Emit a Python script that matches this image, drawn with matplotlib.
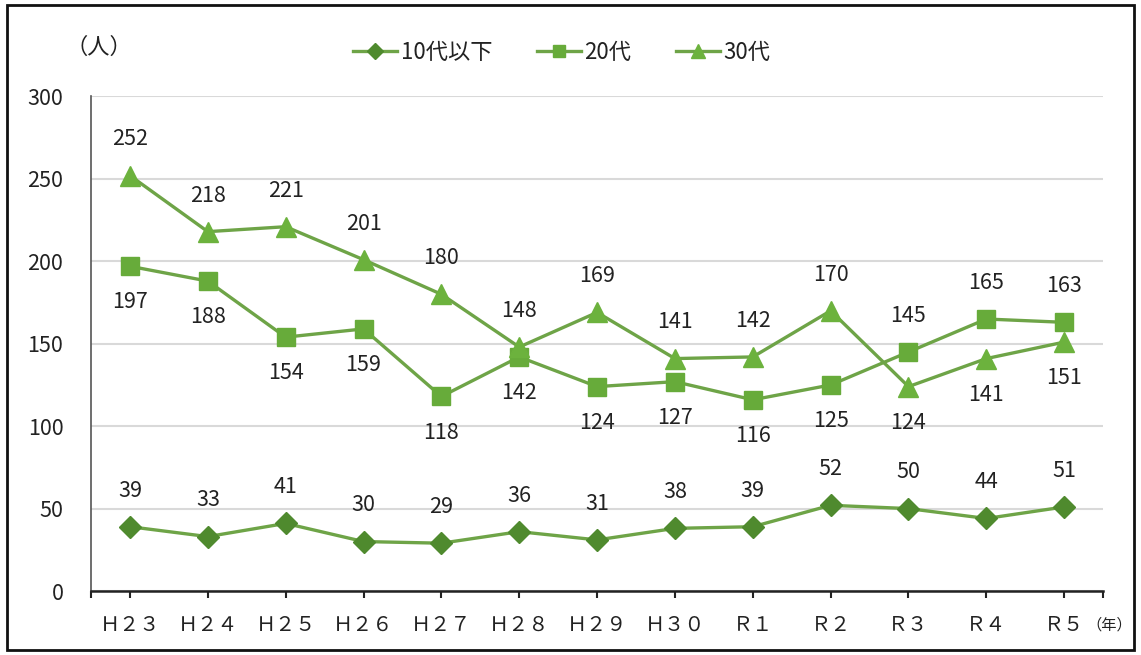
import matplotlib.pyplot as plt
from matplotlib.patches import Rectangle

plt.rcParams['font.family'] = ['Noto Sans CJK JP', 'DejaVu Sans']

# Data: number of people by age group and fiscal year
years = ['Ｈ２３', 'Ｈ２４', 'Ｈ２５', 'Ｈ２６', 'Ｈ２７', 'Ｈ２８', 'Ｈ２９',
         'Ｈ３０', 'Ｒ１', 'Ｒ２', 'Ｒ３', 'Ｒ４', 'Ｒ５']
teens = [39, 33, 41, 30, 29, 36, 31, 38, 39, 52, 50, 44, 51]
twenties = [197, 188, 154, 159, 118, 142, 124, 127, 116, 125, 145, 165, 163]
thirties = [252, 218, 221, 201, 180, 148, 169, 141, 142, 170, 124, 141, 151]

# which data labels sit below the point
below_teens = [False] * 13
below_twenties = [True] * 10 + [False] * 3
below_thirties = [False] * 10 + [True] * 3

series = [
    ('10代以下', teens, below_teens, 'D', 11, '#4f8a2e'),
    ('20代', twenties, below_twenties, 's', 13, '#67ab3a'),
    ('30代', thirties, below_thirties, '^', 14, '#6cb23d'),
]
line_color = '#6ea447'
text_color = '#222222'

fig = plt.figure(figsize=(11.41, 6.55), dpi=100)
ax = fig.add_axes([0.0798, 0.0977, 0.887, 0.755])

x = list(range(len(years)))
for label, vals, below, marker, ms, mcolor in series:
    ax.plot(x, vals, color=line_color, linewidth=2.4, marker=marker,
            markersize=ms, markerfacecolor=mcolor, markeredgecolor=mcolor,
            label=label, zorder=3)
    for xi, v, b in zip(x, vals, below):
        ax.annotate(str(v), xy=(xi, v), xytext=(0, -26 if b else 26),
                    textcoords='offset points', ha='center', va='center',
                    fontsize=15.5, color=text_color)

ax.set_xlim(-0.5, len(years) - 0.5)
ax.set_ylim(0, 300)
ax.set_yticks(range(0, 301, 50))
ax.set_xticks(x)
ax.set_xticklabels(years)
ax.set_xticks([-0.5, len(years) - 0.5], minor=True)
ax.tick_params(axis='y', length=0, pad=20, labelsize=15.5, labelcolor=text_color)
ax.tick_params(axis='x', which='both', length=5, width=1.5, direction='out',
               pad=12, labelsize=14.5, labelcolor=text_color, color='#222222')
ax.grid(axis='y', color='#d9d9d9', linewidth=1.5)
ax.set_axisbelow(True)
for s in ['top', 'right']:
    ax.spines[s].set_visible(False)
ax.spines['left'].set_color('#555555')
ax.spines['left'].set_linewidth(1.2)
ax.spines['bottom'].set_color('#222222')
ax.spines['bottom'].set_linewidth(1.8)

ax.legend(loc='lower center', bbox_to_anchor=(0.465, 1.025), ncol=3,
          frameon=False, fontsize=16, handlelength=2.0, handletextpad=0.15,
          columnspacing=2.0, markerscale=0.7, labelcolor=text_color)

fig.text(0.057, 0.928, '（人）', fontsize=16, ha='left', va='center', color=text_color)
fig.text(0.952, 0.045, '（年）', fontsize=11, ha='left', va='center', color=text_color)

# outer frame
fig.patches.append(Rectangle((0.006, 0.008), 0.988, 0.985, transform=fig.transFigure,
                             fill=False, edgecolor='#111111', linewidth=2))

fig.savefig('out.png', dpi=100, facecolor='white')
